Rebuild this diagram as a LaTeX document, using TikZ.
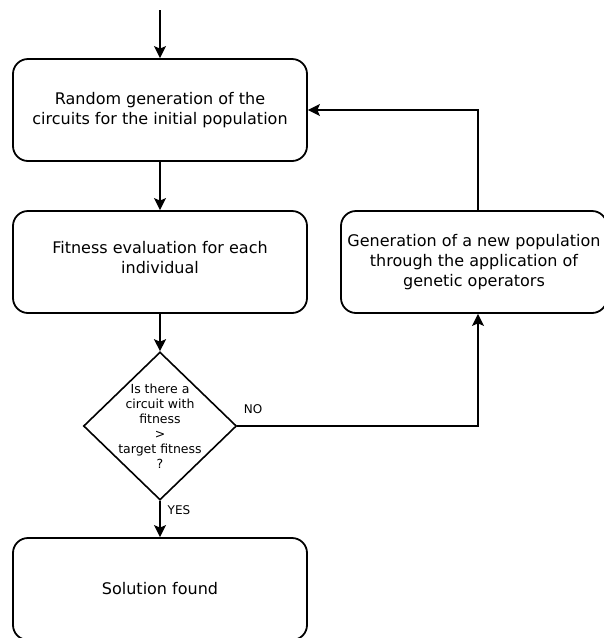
\documentclass[tikz,border=0pt]{standalone}
\usepackage{fontspec}
\setmainfont{DejaVu Sans}
\usetikzlibrary{arrows.meta,shapes.geometric}
\begin{document}
\begin{tikzpicture}[x=1pt,y=-1pt,
  box/.style={draw, line width=1.8pt, rounded corners=15pt, minimum width=294pt, minimum height=102pt, align=center, font=\fontsize{16}{20}\selectfont},
  boxtext/.style={align=center, font=\fontsize{16}{20}\selectfont},
  decide/.style={draw, line width=1.6pt, diamond, minimum width=153pt, minimum height=148pt, inner sep=0pt},
  decidetext/.style={align=center, font=\fontsize{12.5}{15}\selectfont},
  flow/.style={line width=1.6pt, -{Stealth[length=12pt,width=12pt,inset=2.5pt]}},
  lbl/.style={font=\fontsize{12}{14}\selectfont}]
\useasboundingbox (0,0) rectangle (604,638);
\coordinate (start) at (160,10);
\node[box] (init) at (160,110) {Random generation of the\\circuits for the initial population};
\node[box] (eval) at (160,262) {};
\node[boxtext] (evaltext) at (160,258) {Fitness evaluation for each\\individual};
\node[decide] (test) at (160,426) {};
\node[decidetext] (testtext) at (160,426) {Is there a\\circuit with\\fitness\\>\\target fitness\\?};
\node[box, minimum width=266pt] (newpop) at (474,262) {Generation of a new population\\through the application of\\genetic operators};
\node[box] (done) at (160,589) {Solution found};
\coordinate (turn) at (478,426);
\coordinate (up) at (478,110);
\draw[flow] (start) -- (init);
\draw[flow] (init) -- (eval);
\draw[flow] (eval) -- (test);
\draw[flow] (test.east) -- (turn) -- (newpop.south -| turn);
\draw[flow] (newpop.north -| up) -- (up) -- (init.east);
\draw[flow] (test.south) -- (done);
\node[lbl] (no) at (253,409) {NO};
\node[lbl] (yes) at (179,510) {YES};
\end{tikzpicture}
\end{document}
